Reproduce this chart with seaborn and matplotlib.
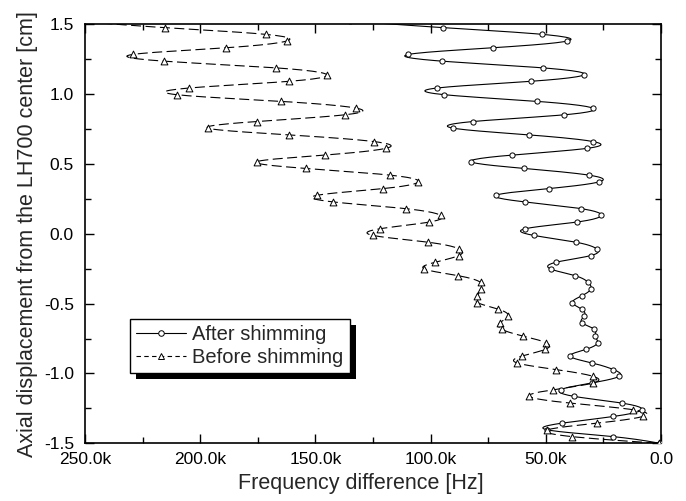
import numpy as np
import matplotlib
matplotlib.use("Agg")
import matplotlib.pyplot as plt
import seaborn as sns
from matplotlib.lines import Line2D
from matplotlib.patches import Rectangle
from matplotlib.transforms import IdentityTransform
from matplotlib.ticker import FixedLocator, MultipleLocator

# ---------------- data ----------------
axial_cm = [1.524, 1.476, 1.428, 1.380, 1.332, 1.284, 1.236, 1.188, 1.140, 1.092,
            1.044, 0.996, 0.948, 0.900, 0.852, 0.804, 0.756, 0.708, 0.660, 0.612,
            0.564, 0.516, 0.468, 0.420, 0.372, 0.324, 0.276, 0.228, 0.180, 0.132,
            0.084, 0.036, -0.012, -0.060, -0.108, -0.156, -0.204, -0.252, -0.300, -0.348,
            -0.396, -0.444, -0.492, -0.540, -0.588, -0.636, -0.684, -0.732, -0.780, -0.828,
            -0.876, -0.924, -0.972, -1.020, -1.068, -1.116, -1.164, -1.212, -1.260, -1.308,
            -1.356, -1.404, -1.452, -1.500]

after_khz = [135, 94.5, 51.5, 40.7, 73.0, 109.7, 94.9, 51.3, 33.3, 56.4,
             97.1, 94.1, 53.7, 29.6, 42.0, 81.5, 90.1, 57.2, 29.4, 32.0,
             64.5, 82.5, 59.3, 31.3, 26.8, 48.6, 71.6, 59.0, 34.7, 26.0,
             36.6, 59.0, 55.1, 37.0, 27.9, 30.5, 45.6, 47.9, 37.3, 31.6,
             30.5, 34.4, 38.5, 34.4, 33.3, 34.4, 28.9, 28.6, 27.5, 32.7,
             39.5, 30.1, 20.7, 18.1, 30.1, 43.5, 37.8, 17.1, 8.4, 20.7,
             43.1, 49.3, 21.0, 0.5]

before_khz = [255, 215.3, 171.6, 162.5, 188.8, 229.3, 215.6, 167.1, 145.1, 161.3,
              204.7, 210.2, 164.9, 132.4, 137.2, 175.5, 196.5, 161.3, 124.4, 119.4,
              145.8, 175.5, 154.2, 117.6, 105.3, 120.5, 149.2, 142.2, 110.8, 95.6,
              100.6, 122.0, 124.9, 101.3, 87.7, 87.8, 98.1, 102.7, 88.0, 78.3,
              78.3, 79.7, 79.7, 70.6, 66.3, 69.9, 69.1, 60.0, 49.9, 50.3,
              60.5, 62.6, 45.6, 29.6, 29.4, 46.7, 57.2, 39.5, 12.0, 7.9,
              27.9, 49.3, 38.8, 1.0]

series_names = ["After shimming", "Before shimming"]
x_ticks_khz = [250, 200, 150, 100, 50, 0]
x_tick_labels = ["250.0k", "200.0k", "150.0k", "100.0k", "50.0k", "0.0"]
y_ticks = [-1.5, -1.0, -0.5, 0.0, 0.5, 1.0, 1.5]
y_tick_labels = ["-1.5", "-1.0", "-0.5", "0.0", "0.5", "1.0", "1.5"]
x_label = "Frequency difference [Hz]"
y_label = "Axial displacement from the LH700 center [cm]"

# ---------------- style ----------------
sns.set_style("ticks")
plt.rcParams["font.family"] = ["Liberation Sans", "DejaVu Sans"]


def spline_path(xv, yv, n=12):
    """Natural cubic spline through the points (uniform spacing), like Origin's spline connect."""
    x = np.asarray(xv, float)
    y = np.asarray(yv, float)
    m = len(x)
    A = np.zeros((m, m))
    b = np.zeros(m)
    A[0, 0] = 1.0
    A[-1, -1] = 1.0
    for i in range(1, m - 1):
        A[i, i - 1] = 1.0
        A[i, i] = 4.0
        A[i, i + 1] = 1.0
        b[i] = 6.0 * (x[i + 1] - 2 * x[i] + x[i - 1])
    M = np.linalg.solve(A, b)
    s = np.linspace(0, 1, n, endpoint=False)
    xs, ys = [], []
    for i in range(m - 1):
        xi = (1 - s) * x[i] + s * x[i + 1] + ((1 - s) ** 3 - (1 - s)) * M[i] / 6 + (s ** 3 - s) * M[i + 1] / 6
        yi = (1 - s) * y[i] + s * y[i + 1]
        xs.append(xi)
        ys.append(yi)
    xs.append([x[-1]])
    ys.append([y[-1]])
    return np.concatenate(xs), np.concatenate(ys)


fig = plt.figure(figsize=(6.86, 5.01), dpi=100)
ax = fig.add_axes([0.1239, 0.1152, 0.8397, 0.8363])

line_w = 0.8
dash = (0, (9, 4))

cx, cy = spline_path(after_khz, axial_cm)
sns.lineplot(x=cx, y=cy, sort=False, estimator=None, color="black",
             linewidth=line_w, linestyle="-", ax=ax, legend=False)
cx, cy = spline_path(before_khz, axial_cm)
sns.lineplot(x=cx, y=cy, sort=False, estimator=None, color="black",
             linewidth=line_w, linestyle=dash, ax=ax, legend=False)

sns.scatterplot(x=after_khz, y=axial_cm, marker="o", s=14, color="white",
                edgecolor="black", linewidth=0.7, ax=ax, zorder=3, legend=False)
sns.scatterplot(x=before_khz, y=axial_cm, marker="^", s=24, color="white",
                edgecolor="black", linewidth=0.7, ax=ax, zorder=3, legend=False)

ax.set_xlim(250, 0)
ax.set_ylim(-1.5, 1.5)
ax.xaxis.set_major_locator(FixedLocator(x_ticks_khz))
ax.set_xticklabels(x_tick_labels)
ax.xaxis.set_minor_locator(MultipleLocator(25))
ax.yaxis.set_major_locator(FixedLocator(y_ticks))
ax.set_yticklabels(y_tick_labels)
ax.yaxis.set_minor_locator(MultipleLocator(0.25))

ax.tick_params(which="both", direction="in", top=True, right=True,
               width=1.0, colors="black")
ax.tick_params(which="major", length=6.5, labelsize=12.5)
ax.tick_params(axis="x", which="major", pad=6)
ax.tick_params(axis="y", which="major", pad=8)
ax.tick_params(which="minor", length=4)
for sp in ax.spines.values():
    sp.set_linewidth(1.2)
    sp.set_color("black")

ax.set_xlabel(x_label, fontsize=15.5)
ax.xaxis.set_label_coords(0.479, -0.072)
ax.set_ylabel(y_label, fontsize=15.5, labelpad=4)

handles = [
    Line2D([], [], color="black", lw=line_w, ls="-", marker="o", markersize=4,
           markerfacecolor="white", markeredgecolor="black", markeredgewidth=0.7),
    Line2D([], [], color="black", lw=line_w, ls=(0, (4, 3)), marker="^", markersize=4.5,
           markerfacecolor="white", markeredgecolor="black", markeredgewidth=0.7),
]
leg = ax.legend(handles, series_names, loc="upper left",
                bbox_to_anchor=(0.078, 0.297), borderaxespad=0,
                fontsize=14.5, frameon=True, fancybox=False, framealpha=1,
                edgecolor="black", handlelength=2.5, handletextpad=0.3,
                borderpad=0.3, labelspacing=0.2)
leg.get_frame().set_linewidth(1.0)

fig.canvas.draw()
bb = leg.get_frame().get_window_extent(fig.canvas.get_renderer())
shadow = Rectangle((bb.x0 + 6, bb.y0 - 6), bb.width, bb.height,
                   transform=IdentityTransform(), facecolor="black",
                   edgecolor="none", zorder=leg.get_zorder() - 0.1, clip_on=False)
ax.add_artist(shadow)

fig.savefig("out.png", dpi=100)
